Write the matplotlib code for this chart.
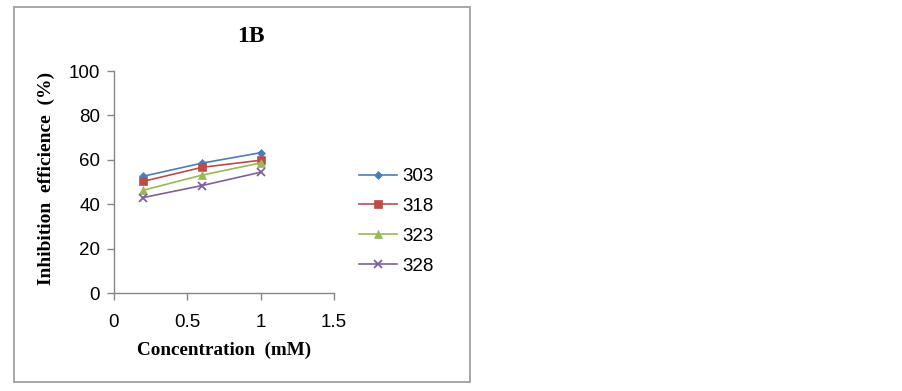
import matplotlib
matplotlib.use('Agg')
import matplotlib.pyplot as plt
from matplotlib.patches import Rectangle

conc = [0.2, 0.6, 1.0]
temps = ['303', '318', '323', '328']
ie_303 = [52.6, 58.5, 63.2]
ie_318 = [50.3, 56.6, 59.8]
ie_323 = [46.3, 53.1, 58.6]
ie_328 = [43.0, 48.4, 54.4]

colors = ['#4a7ebb', '#be4b48', '#98b954', '#7d60a0']
markers = ['D', 's', '^', 'x']
msizes = [4.5, 6, 6, 5.5]

W, H = 902, 391
fig = plt.figure(figsize=(W / 100, H / 100), dpi=100)

# chart frame
fig.patches.append(Rectangle((14 / W, 1 - 382 / H), (470 - 14) / W, (382 - 7) / H,
                             transform=fig.transFigure, fill=False,
                             ec='#a6a6a6', lw=1.4))

ax = fig.add_axes([114 / W, 1 - 293 / H, (334 - 114) / W, (293 - 71) / H])

for vals, lab, c, m, ms in zip([ie_303, ie_318, ie_323, ie_328], temps,
                               colors, markers, msizes):
    ax.plot(conc, vals, color=c, marker=m, markersize=ms, lw=1.2, label=lab,
            markeredgewidth=1.3 if m == 'x' else 0.5, clip_on=False)

ax.set_xlim(0, 1.5)
ax.set_ylim(0, 100)
ax.set_xticks([0, 0.5, 1, 1.5])
ax.set_xticklabels(['0', '0.5', '1', '1.5'])
ax.set_yticks(range(0, 101, 20))

for s in ['top', 'right']:
    ax.spines[s].set_visible(False)
for s in ['left', 'bottom']:
    ax.spines[s].set_color('#868686')
    ax.spines[s].set_linewidth(1.0)
ax.tick_params(colors='#868686', length=5, width=1.0, labelcolor='black',
               labelsize=13.5)
ax.tick_params(axis='x', pad=10)
ax.tick_params(axis='y', pad=5)
for t in ax.get_xticklabels() + ax.get_yticklabels():
    t.set_fontfamily('Liberation Sans')

ax.set_xlabel('Concentration  (mM)', fontfamily='Liberation Serif',
              fontweight='bold', fontsize=13.8, labelpad=8)
ax.set_ylabel('Inhibition  efficience  (%)', fontfamily='Liberation Serif',
              fontweight='bold', fontsize=14)
ax.yaxis.set_label_coords(55 / W, 1 - 178 / H, transform=fig.transFigure)
fig.text(251 / W, 1 - 36 / H, '1B', fontfamily='Liberation Serif',
         fontweight='bold', fontsize=17, ha='center', va='center')

leg = fig.legend(loc='upper left', bbox_to_anchor=(359 / W, 1 - 168 / H),
                 frameon=False, handlelength=2.0, handletextpad=0.32,
                 labelspacing=0.68, borderpad=0, borderaxespad=0,
                 prop={'family': 'Liberation Sans', 'size': 13.5})

fig.savefig('out.png', dpi=100)
